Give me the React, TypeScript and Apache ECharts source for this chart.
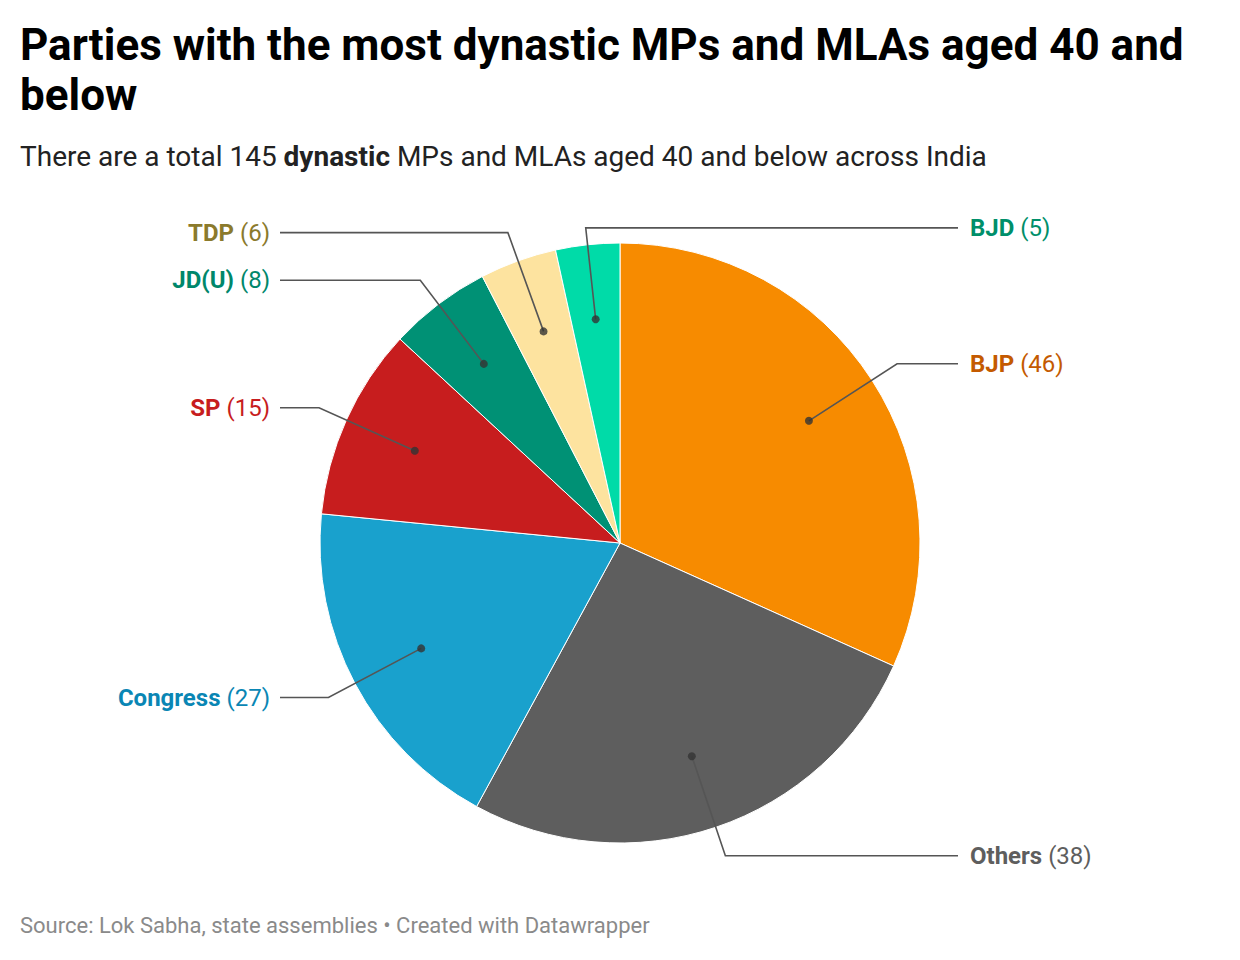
import React, { useEffect, useRef } from "react";
import * as echarts from "echarts";

const parties = ["BJP", "Others", "Congress", "SP", "JD(U)", "TDP", "BJD"];
const seats = [46, 38, 27, 15, 8, 6, 5];
const sliceColors = ["#f78b00", "#5e5e5e", "#19a1cd", "#c71d1e", "#009175", "#fde39f", "#00dba8"];
const labelColors = ["#c45a00", "#5e5e5e", "#0a86b4", "#c71d1e", "#00876b", "#8b7a2c", "#008f6a"];
const labelSides = ["right", "right", "left", "left", "left", "left", "right"];
const elbowRadii = [330, 330, 330, 330, 330, 330, 317];

const TITLE = "Parties with the most dynastic MPs and MLAs aged 40 and\nbelow";
const SUBTITLE = "There are a total 145 {b|dynastic} MPs and MLAs aged 40 and below across India";
const FOOTER = "Source: Lok Sabha, state assemblies \u2022 Created with Datawrapper";

const CX = 620;
const CY = 543;
const R = 300;
const DOT_FRAC = 0.75;
const FONT = "Roboto";

const total = seats.reduce((a, b) => a + b, 0);
const mids: number[] = [];
{
  let c = 0;
  seats.forEach((v) => {
    mids.push(c + v / 2);
    c += v;
  });
}

function pt(mid: number, r: number): [number, number] {
  const a = (mid / total) * Math.PI * 2;
  return [CX + r * Math.sin(a), CY - r * Math.cos(a)];
}

export default function App() {
  const ref = useRef<HTMLDivElement>(null);
  useEffect(() => {
    document.body.style.margin = "0";
    const chart = echarts.init(ref.current!, undefined, { renderer: "svg" });
    const data = parties.map((p, i) => ({ name: p, value: seats[i] }));
    const option: any = {
      animation: false,
      backgroundColor: "#ffffff",
      title: [
        {
          text: TITLE,
          left: 20,
          top: 20,
          padding: 0,
          textStyle: { fontFamily: FONT, fontSize: 44, fontWeight: "bold", color: "#000", lineHeight: 50 },
        },
        {
          text: SUBTITLE,
          left: 20,
          top: 142,
          padding: 0,
          textStyle: {
            fontFamily: FONT,
            fontSize: 28,
            fontWeight: "normal",
            color: "#222",
            rich: { b: { fontFamily: FONT, fontSize: 28, fontWeight: "bold", color: "#222" } },
          },
        },
        {
          text: FOOTER,
          left: 20,
          top: 914,
          padding: 0,
          textStyle: { fontFamily: FONT, fontSize: 22, fontWeight: "normal", color: "#8a8a8a" },
        },
      ],
      polar: { center: [CX, CY], radius: R },
      angleAxis: { type: "value", min: 0, max: total, startAngle: 90, clockwise: true, show: false },
      radiusAxis: { type: "value", min: 0, max: 1, show: false },
      series: [
        {
          type: "pie",
          center: [CX, CY],
          radius: R,
          startAngle: 90,
          clockwise: true,
          silent: true,
          z: 2,
          label: { show: false },
          labelLine: { show: false },
          itemStyle: { borderColor: "#ffffff", borderWidth: 1 },
          data: data.map((d, i) => ({ ...d, itemStyle: { color: sliceColors[i] } })),
        },
        {
          type: "pie",
          center: [CX, CY],
          radius: R,
          startAngle: 90,
          clockwise: true,
          silent: true,
          z: 5,
          avoidLabelOverlap: false,
          itemStyle: { color: "rgba(0,0,0,0)", borderWidth: 0 },
          label: {
            show: true,
            position: "outside",
            formatter: "{n|{b}}{v| ({c})}",
          },
          labelLine: { show: true, length: 30, length2: 20, lineStyle: { color: "#555555", width: 1.6 } },
          labelLayout: (params: any) => {
            const i = params.dataIndex;
            const dot = pt(mids[i], R * DOT_FRAC);
            const elb = pt(mids[i], elbowRadii[i]);
            const right = labelSides[i] === "right";
            const endX = right ? 958 : 280;
            return {
              x: right ? 970 : 270,
              y: elb[1],
              align: right ? "left" : "right",
              verticalAlign: "middle",
              labelLinePoints: [dot, elb, [endX, elb[1]]],
            };
          },
          data: data.map((d, i) => ({
            ...d,
            label: {
              rich: {
                n: { fontFamily: FONT, fontSize: 24, fontWeight: "bold", color: labelColors[i] },
                v: { fontFamily: FONT, fontSize: 24, fontWeight: "normal", color: labelColors[i] },
              },
            },
          })),
        },
        {
          type: "scatter",
          coordinateSystem: "polar",
          symbol: "circle",
          symbolSize: 8,
          z: 10,
          silent: true,
          itemStyle: { color: "#333333" },
          data: mids.map((m) => [DOT_FRAC, m]),
        },
      ],
    };
    chart.setOption(option);
    return () => chart.dispose();
  }, []);
  return <div ref={ref} style={{ width: 1240, height: 960 }} />;
}
